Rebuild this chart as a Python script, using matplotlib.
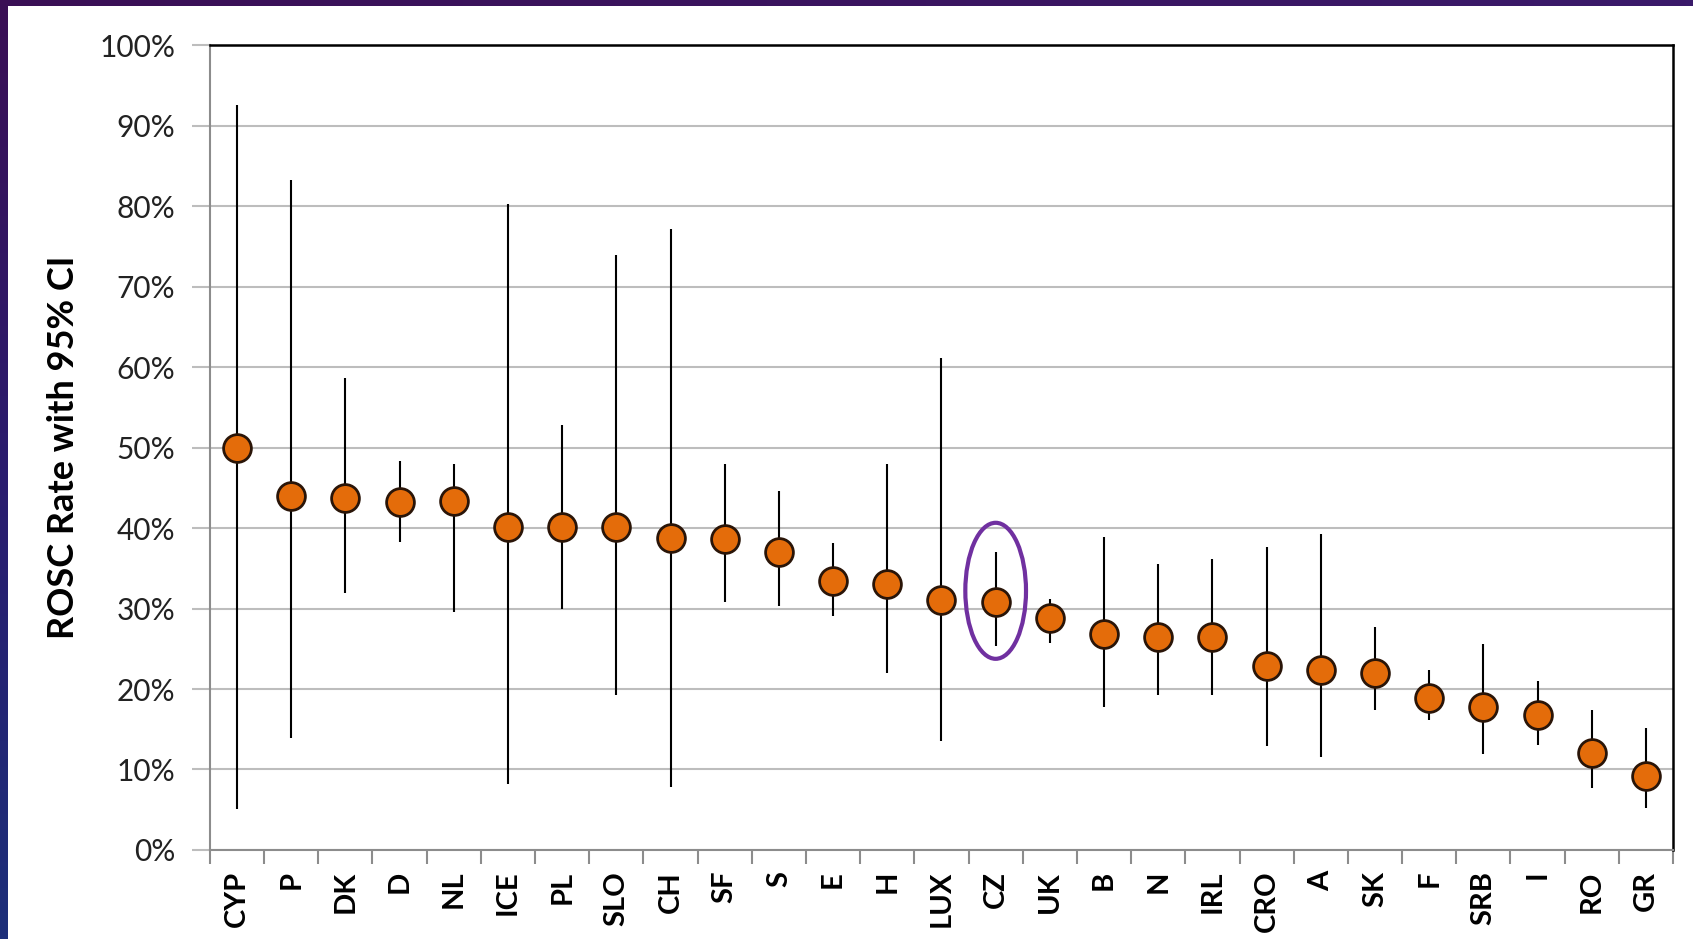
import numpy as np
import matplotlib
matplotlib.use("Agg")
import matplotlib.pyplot as plt
from matplotlib.patches import Ellipse
from matplotlib.ticker import FixedLocator, PercentFormatter

# ROSC rate per country (%), with 95% confidence limits
countries = ["CYP", "P", "DK", "D", "NL", "ICE", "PL", "SLO", "CH", "SF", "S", "E", "H",
             "LUX", "CZ", "UK", "B", "N", "IRL", "CRO", "A", "SK", "F", "SRB", "I", "RO", "GR"]
rosc = [50.0, 44.0, 43.7, 43.2, 43.3, 40.1, 40.1, 40.1, 38.7, 38.6, 37.0, 33.4, 33.0,
        31.0, 30.8, 28.8, 26.8, 26.4, 26.4, 22.8, 22.4, 22.0, 18.9, 17.8, 16.8, 12.0, 9.2]
ci_low = [5.1, 13.9, 31.9, 38.3, 29.6, 8.2, 29.9, 19.2, 7.8, 30.8, 30.3, 29.1, 22.0,
          13.5, 25.3, 25.7, 17.8, 19.2, 19.2, 12.9, 11.5, 17.4, 16.1, 11.9, 13.1, 7.7, 5.2]
ci_high = [92.6, 83.2, 58.7, 48.3, 48.0, 80.2, 52.8, 73.9, 77.2, 48.0, 44.6, 38.2, 48.0,
           61.1, 37.0, 31.2, 38.9, 35.5, 36.2, 37.7, 39.3, 27.7, 22.4, 25.6, 21.0, 17.4, 15.2]
highlight = "CZ"

plt.rcParams["font.family"] = ["Lato", "DejaVu Sans"]

fig = plt.figure(figsize=(16.93, 9.39), dpi=100)
fig.patch.set_facecolor("white")

# slide frame: purple strip on top, purple-to-blue strip on the left
top_strip = fig.add_axes([0, 0.9936, 1, 0.0064])
top_strip.imshow(np.linspace(0, 1, 256)[None, :], aspect="auto",
                 cmap=matplotlib.colors.LinearSegmentedColormap.from_list("t", ["#3b0f55", "#3a1a6a"]))
top_strip.axis("off")
left_strip = fig.add_axes([0, 0, 0.0047, 1])
left_strip.imshow(np.linspace(0, 1, 256)[:, None], aspect="auto",
                  cmap=matplotlib.colors.LinearSegmentedColormap.from_list("l", ["#3b0f55", "#2a1c6e", "#1d2f7a"]))
left_strip.axis("off")

ax = fig.add_axes([0.124, 0.0948, 0.8642, 0.8572])
x = np.arange(len(countries))
y = np.array(rosc)
yerr = np.array([y - np.array(ci_low), np.array(ci_high) - y])

ax.errorbar(x, y, yerr=yerr, fmt="o", color="black", elinewidth=1.5, capsize=0,
            markersize=20, markerfacecolor="#e46c0a", markeredgecolor="#2a1508",
            markeredgewidth=2, zorder=3)

# circle the highlighted country
i = countries.index(highlight)
ax.add_patch(Ellipse((x[i], 32.2), 1.12, 16.9, fill=False, edgecolor="#7030a0",
                     linewidth=3, zorder=4))

ax.set_xlim(-0.5, len(countries) - 0.5)
ax.set_ylim(0, 100)
ax.yaxis.set_major_locator(FixedLocator(np.arange(0, 101, 10)))
ax.yaxis.set_major_formatter(PercentFormatter(decimals=0))
ax.grid(axis="y", color="#bdbdbd", linewidth=1.5)
ax.set_axisbelow(True)

ax.set_xticks(x)
ax.set_xticklabels(countries, rotation=90, fontsize=21, fontweight="bold")
ax.set_xticks(np.arange(-0.5, len(countries), 1), minor=True)
ax.tick_params(axis="x", which="major", length=0, pad=15)
ax.tick_params(axis="x", which="minor", length=10, width=1.5, color="#8c8c8c", direction="out")
ax.tick_params(axis="y", length=13, width=1.5, color="#bdbdbd", pad=12, labelsize=21.5,
               labelcolor="#222222")

for side in ["left", "bottom"]:
    ax.spines[side].set_color("#8c8c8c")
    ax.spines[side].set_linewidth(1.5)
for side in ["top", "right"]:
    ax.spines[side].set_color("black")
    ax.spines[side].set_linewidth(1.8)

ax.set_ylabel("ROSC Rate with 95% CI", fontsize=26, fontweight="bold", labelpad=14)

fig.savefig("out.png", dpi=100)
